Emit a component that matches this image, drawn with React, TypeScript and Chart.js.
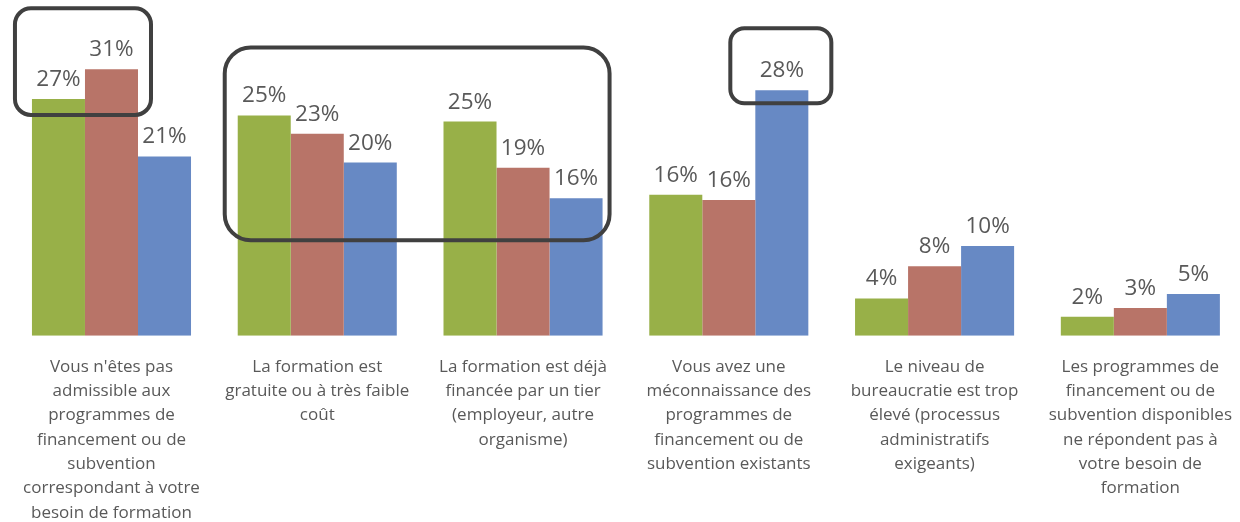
import React, { useEffect, useRef } from "react";
import { Chart, registerables } from "chart.js";

Chart.register(...registerables);

const categories: string[][] = [
  ["Vous n'êtes pas", "admissible aux", "programmes de", "financement ou de", "subvention", "correspondant à votre", "besoin de formation"],
  ["La formation est", "gratuite ou à très faible", "coût"],
  ["La formation est déjà", "financée par un tier", "(employeur, autre", "organisme)"],
  ["Vous avez une", "méconnaissance des", "programmes de", "financement ou de", "subvention existants"],
  ["Le niveau de", "bureaucratie est trop", "élevé (processus", "administratifs", "exigeants)"],
  ["Les programmes de", "financement ou de", "subvention disponibles", "ne répondent pas à", "votre besoin de", "formation"],
];

const seriesGreen = [27.2, 25.3, 24.6, 16.2, 4.3, 2.2];
const seriesRed = [30.6, 23.2, 19.3, 15.6, 8.0, 3.2];
const seriesBlue = [20.6, 19.9, 15.8, 28.2, 10.3, 4.8];

const colors = ["#98B048", "#B87468", "#6789C4"];

const valueLabels = {
  id: "valueLabels",
  afterDatasetsDraw(chart: any) {
    const ctx = chart.ctx;
    ctx.save();
    ctx.font = "22.5px 'Open Sans'";
    ctx.fillStyle = "#595959";
    ctx.textAlign = "center";
    ctx.textBaseline = "alphabetic";
    chart.data.datasets.forEach((ds: any, i: number) => {
      const meta = chart.getDatasetMeta(i);
      meta.data.forEach((bar: any, j: number) => {
        ctx.fillText(Math.round(ds.data[j]) + "%", bar.x, bar.y - 13);
      });
    });
    ctx.restore();
  },
};

function roundRect(ctx: any, l: number, t: number, r: number, b: number, rad: number) {
  ctx.beginPath();
  ctx.moveTo(l + rad, t);
  ctx.lineTo(r - rad, t);
  ctx.arcTo(r, t, r, t + rad, rad);
  ctx.lineTo(r, b - rad);
  ctx.arcTo(r, b, r - rad, b, rad);
  ctx.lineTo(l + rad, b);
  ctx.arcTo(l, b, l, b - rad, rad);
  ctx.lineTo(l, t + rad);
  ctx.arcTo(l, t, l + rad, t, rad);
  ctx.closePath();
  ctx.stroke();
}

const highlightBoxes = {
  id: "highlightBoxes",
  afterDraw(chart: any) {
    const ctx = chart.ctx;
    const m0 = chart.getDatasetMeta(0).data;
    const m1 = chart.getDatasetMeta(1).data;
    const m2 = chart.getDatasetMeta(2).data;
    const L = (b: any) => b.x - b.width / 2;
    const R = (b: any) => b.x + b.width / 2;
    ctx.save();
    ctx.strokeStyle = "#404040";
    ctx.lineWidth = 4;
    roundRect(ctx, L(m0[0]) - 17, m1[0].y - 61, R(m1[0]) + 13, m0[0].y + 16, 16);
    roundRect(ctx, L(m0[1]) - 13, m0[1].y - 68, R(m2[2]) + 7, m2[2].y + 42, 26);
    roundRect(ctx, L(m2[3]) - 25, m2[3].y - 62, R(m2[3]) + 23, m2[3].y + 13, 14);
    ctx.restore();
  },
};

export default function App() {
  const ref = useRef<HTMLCanvasElement>(null);
  useEffect(() => {
    document.body.style.margin = "0";
    document.body.style.overflow = "hidden";
    const chart = new Chart(ref.current!, {
      type: "bar",
      data: {
        labels: categories,
        datasets: [
          { label: "A", data: seriesGreen, backgroundColor: colors[0] },
          { label: "B", data: seriesRed, backgroundColor: colors[1] },
          { label: "C", data: seriesBlue, backgroundColor: colors[2] },
        ],
      },
      options: {
        animation: false,
        responsive: true,
        maintainAspectRatio: false,
        layout: { padding: { left: 8.6, right: 0, top: 31, bottom: 0 } },
        datasets: { bar: { barPercentage: 1, categoryPercentage: 0.773 } },
        plugins: { legend: { display: false }, tooltip: { enabled: false }, title: { display: false } },
        scales: {
          x: {
            grid: { display: false, drawTicks: false },
            border: { display: false },
            ticks: {
              color: "#595959",
              font: { family: "'Open Sans'", size: 17, lineHeight: 1.43 },
              padding: 19,
              maxRotation: 0,
              autoSkip: false,
            },
          },
          y: { display: false, min: 0, max: 35 },
        },
      },
      plugins: [valueLabels, highlightBoxes],
    });
    return () => chart.destroy();
  }, []);
  return (
    <div style={{ position: "relative", width: "1251px", height: "544px" }}>
      <canvas ref={ref} />
    </div>
  );
}
